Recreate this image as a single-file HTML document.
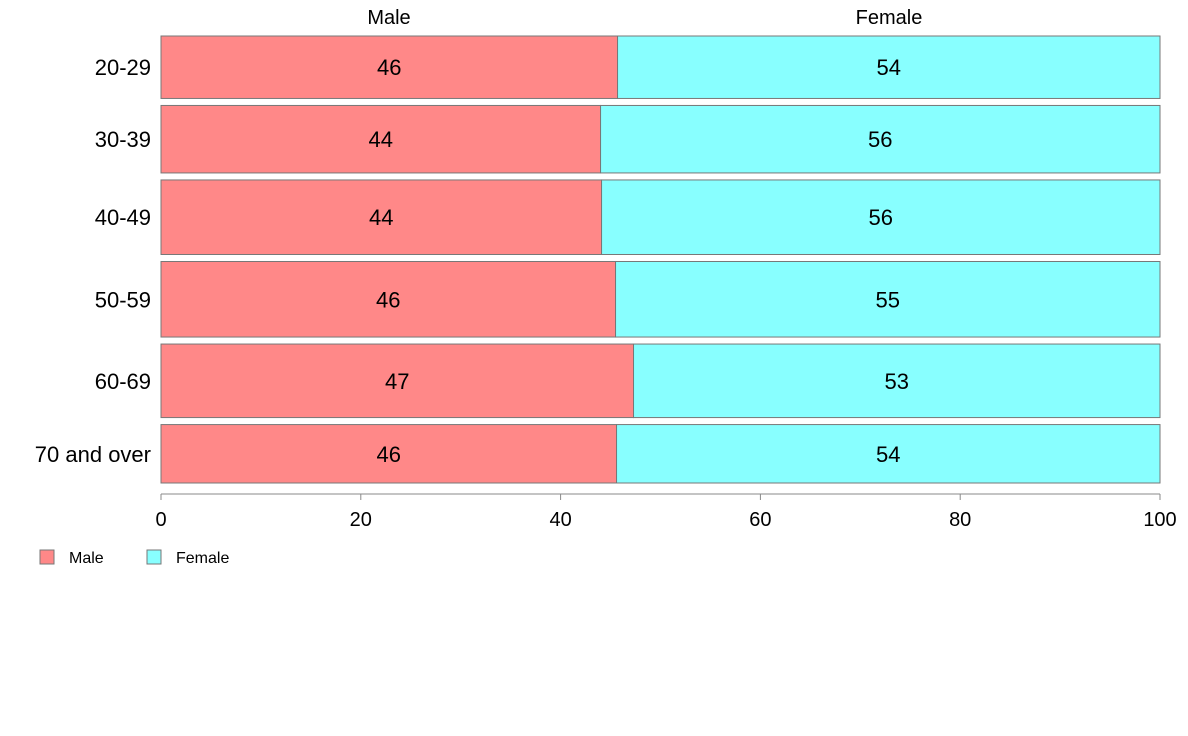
<!DOCTYPE html>
<html><head><meta charset="utf-8"><style>
html,body{margin:0;padding:0;background:#fff;width:1188px;height:736px;overflow:hidden}
svg text{font-family:"Liberation Sans",sans-serif}
</style></head><body>
<svg id="chart" width="1188" height="736" xmlns="http://www.w3.org/2000/svg"></svg>
<script>
const categories = ["20-29","30-39","40-49","50-59","60-69","70 and over"];
const maleValues = [45.7,44.0,44.1,45.5,47.3,45.6];
const femaleValues = [54.3,56.0,55.9,54.5,52.7,54.4];
const rowWeights = [62,67,74,75,73,58];
const tickLabels = [0,20,40,60,80,100];
const seriesNames = ["Male","Female"];

const svg = document.getElementById('chart');
const NS = "http://www.w3.org/2000/svg";
const x0 = 161, x1 = 1160, yTop = 36, yBot = 483, gap = 7;
const xScale = v => x0 + (v / 100) * (x1 - x0);
const totalW = rowWeights.reduce((a,b)=>a+b,0);
const avail = (yBot - yTop) - gap * (categories.length - 1);
function mk(tag, attrs, parent){ const e=document.createElementNS(NS,tag); for(const k in attrs) e.setAttribute(k,attrs[k]); (parent||svg).appendChild(e); return e; }

let y = yTop;
categories.forEach((cat,i)=>{
  const h = rowWeights[i] / totalW * avail;
  const g = mk('g',{});
  
  
  const xm = xScale(maleValues[i]);
  const xe = xScale(maleValues[i] + femaleValues[i]);
  const r1 = mk('rect',{x:x0,y:y,width:xm-x0,height:h,fill:'#FF8888',stroke:'#777','stroke-width':1},g);
  
  
  const r2 = mk('rect',{x:xm,y:y,width:xe-xm,height:h,fill:'#88FFFF',stroke:'#777','stroke-width':1},g);
  
  
  const t1 = mk('text',{x:(x0+xm)/2,y:y+h/2+8,'text-anchor':'middle','font-size':22,fill:'#000'},g);
  t1.textContent = Math.round(maleValues[i]);
  
  
  const t2 = mk('text',{x:(xm+xe)/2,y:y+h/2+8,'text-anchor':'middle','font-size':22,fill:'#000'},g);
  t2.textContent = Math.round(femaleValues[i]);
  
  
  const tc = mk('text',{x:151,y:y+h/2+8,'text-anchor':'end','font-size':22,fill:'#000'},g);
  tc.textContent = cat;
  
  
  y += h + gap;
});

// x axis
const ax = mk('line',{x1:x0,x2:x1,y1:494,y2:494,stroke:'#888','stroke-width':1});


tickLabels.forEach(v=>{
  const tk = mk('line',{x1:xScale(v),x2:xScale(v),y1:494,y2:500,stroke:'#888'});
  
  
  const tl = mk('text',{x:xScale(v),y:526,'text-anchor':'middle','font-size':20,fill:'#000'});
  tl.textContent = v;
  
  
});

// top labels
const h1 = mk('text',{x:389,y:24,'text-anchor':'middle','font-size':20,fill:'#000'});
h1.textContent = seriesNames[0];


const h2 = mk('text',{x:889,y:24,'text-anchor':'middle','font-size':20,fill:'#000'});
h2.textContent = seriesNames[1];



// legend
const lg = mk('g',{});


const ls1 = mk('rect',{x:40,y:550,width:14,height:14,fill:'#FF8888',stroke:'#777'},lg);


const lt1 = mk('text',{x:69,y:563,'font-size':16,fill:'#000'},lg);
lt1.textContent = seriesNames[0];


const ls2 = mk('rect',{x:147,y:550,width:14,height:14,fill:'#88FFFF',stroke:'#777'},lg);


const lt2 = mk('text',{x:176,y:563,'font-size':16,fill:'#000'},lg);
lt2.textContent = seriesNames[1];


</script>
</body></html>
